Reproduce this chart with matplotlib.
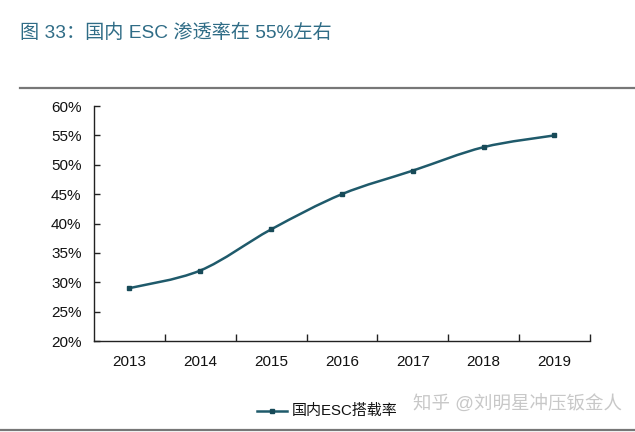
import matplotlib.pyplot as plt
from matplotlib.path import Path
from matplotlib.patches import PathPatch
from matplotlib.ticker import FixedLocator, FuncFormatter
import numpy as np

plt.rcParams['font.family'] = ['Liberation Sans', 'Noto Sans CJK SC', 'DejaVu Sans']

years = ['2013', '2014', '2015', '2016', '2017', '2018', '2019']
esc_rate = [29, 32, 39, 45, 49, 53, 55]
series_name = '国内ESC搭载率'
title = '图 33：国内 ESC 渗透率在 55%左右'
watermark = '知乎 @刘明星冲压钣金人'

line_color = '#1f5a6b'

fig = plt.figure(figsize=(6.35, 4.32), dpi=100)
ax = fig.add_axes([0.148, 0.2106, 0.781, 0.5440])

x = np.arange(len(years))
y = np.array(esc_rate, dtype=float)

# smooth line (Catmull-Rom -> cubic bezier through the data points)
verts = [(x[0], y[0])]
codes = [Path.MOVETO]
n = len(x)
for i in range(n - 1):
    p0 = max(i - 1, 0)
    p3 = min(i + 2, n - 1)
    c1 = (x[i] + (x[i + 1] - x[p0]) / 6, y[i] + (y[i + 1] - y[p0]) / 6)
    c2 = (x[i + 1] - (x[p3] - x[i]) / 6, y[i + 1] - (y[p3] - y[i]) / 6)
    verts += [c1, c2, (x[i + 1], y[i + 1])]
    codes += [Path.CURVE4] * 3
ax.add_patch(PathPatch(Path(verts, codes), fill=False, edgecolor=line_color, lw=1.8))
ax.plot(x, y, linestyle='none', marker='s', markersize=3.5, color='#174a58')

ax.set_xlim(-0.5, len(years) - 0.5)
ax.set_ylim(20, 60)
ax.set_yticks(np.arange(20, 61, 5))
ax.yaxis.set_major_formatter(FuncFormatter(lambda v, p: f'{v:.0f}%'))
ax.set_xticks(x)
ax.set_xticklabels(years)
ax.xaxis.set_minor_locator(FixedLocator(np.arange(0.5, len(years), 1.0)))

for s in ['top', 'right']:
    ax.spines[s].set_visible(False)
for s in ['left', 'bottom']:
    ax.spines[s].set_color('#222222')
    ax.spines[s].set_linewidth(1.0)

ax.tick_params(axis='y', direction='in', length=4, width=1, color='#222222',
               labelsize=11, pad=9, labelcolor='#111111')
ax.tick_params(axis='x', which='major', length=0, labelsize=11, pad=10, labelcolor='#111111')
ax.tick_params(axis='x', which='minor', direction='in', length=5, width=1, color='#222222')

fig.text(20 / 635, 1 - 33 / 432, title, fontsize=13.8, color='#2f6c86', va='center', ha='left')
fig.add_artist(plt.Line2D([20 / 635, 1.0], [1 - 88 / 432] * 2, color='#777777', lw=1.6))
fig.add_artist(plt.Line2D([0.0, 1.0], [1 - 430 / 432] * 2, color='#777777', lw=1.6))

# legend
fig.add_artist(plt.Line2D([257 / 635, 287 / 635], [1 - 411 / 432] * 2, color=line_color, lw=1.8))
fig.add_artist(plt.Line2D([272 / 635], [1 - 411 / 432], marker='s', markersize=3.5, color='#174a58'))
fig.text(292 / 635, 1 - 411 / 432, series_name, fontsize=10.8, color='#111111', va='center', ha='left')

fig.text(413 / 635, 1 - 405 / 432, watermark, fontsize=13.3, color='#c8c8c8', va='center', ha='left')

fig.savefig('out.png', dpi=100)
